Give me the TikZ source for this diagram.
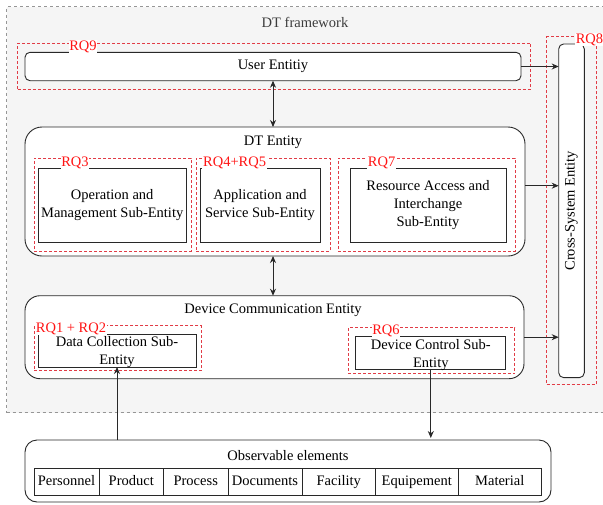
\documentclass[tikz,border=0pt]{standalone}
\usepackage{fontspec}
\setmainfont{Liberation Serif}
\usepackage{xcolor}
\definecolor{framegray}{RGB}{150,150,150}
\definecolor{framefill}{RGB}{245,245,245}
\definecolor{titlegray}{RGB}{60,60,60}
\definecolor{rqred}{RGB}{225,60,70}
\definecolor{rqtext}{RGB}{255,20,20}
\definecolor{linedark}{RGB}{40,40,40}
\usetikzlibrary{arrows.meta,positioning,calc}

\begin{document}
\begin{tikzpicture}[x=1pt,y=-1pt,
      every node/.style={font=\fontsize{14.5}{18}\selectfont,inner sep=0pt,outer sep=0pt},
      frame/.style={draw=framegray,fill=framefill,line width=0.8pt,dash pattern=on 3pt off 3pt},
      ent/.style={draw=linedark,fill=white,line width=0.9pt,rounded corners=#1},
      ent/.default=5pt,
      sub/.style={draw=linedark,fill=white,line width=0.9pt,align=center},
      rq/.style={draw=rqred,line width=1pt,dash pattern=on 3pt off 2pt},
      rqlab/.style={fill=white,text=rqtext,inner sep=0.8pt},
      cell/.style={draw=linedark,line width=0.9pt,minimum height=27pt,text height=10pt,text depth=3pt},
      link/.style={draw=linedark,line width=0.9pt,-{Stealth[length=7pt,width=6pt]}},
      dlink/.style={link,{Stealth[length=7pt,width=6pt]}-{Stealth[length=7pt,width=6pt]}}]
      \useasboundingbox (0,0) rectangle (603,504);
      \node[frame,minimum width=606pt,minimum height=406pt] (fw) at (309.5,209.6) {};
      \node[text=titlegray] (fwt) at (305,22.5) {DT framework};

      \node[rq,minimum width=513pt,minimum height=46pt] (rq9) at (274,66) {};
      \node[ent,minimum width=496pt,minimum height=28.4pt] (user) at (273,66.5) {User Entitiy};
      \node[rqlab] (rq9l) at (83,46.5) {RQ9};

      \node[ent=17pt,minimum width=500pt,minimum height=129pt] (dte) at (275,191.5) {};
      \node (dtet) at (273,142.7) {DT Entity};
      \node[rq,minimum width=157pt,minimum height=93pt] (rq3) at (112.5,204.5) {};
      \node[rq,minimum width=134pt,minimum height=93pt] (rq45) at (263,204.5) {};
      \node[rq,minimum width=177pt,minimum height=93pt] (rq7) at (426.5,204.5) {};
      \node[sub,minimum width=148.5pt,minimum height=74pt] (opm) at (112.2,205) {Operation and\\Management Sub-Entity};
      \node[sub,minimum width=120pt,minimum height=74pt] (app) at (260,205) {Application and\\Service Sub-Entity};
      \node[sub,minimum width=156pt,minimum height=74pt] (res) at (428,205) {Resource Access and\\Interchange\\Sub-Entity};
      \node[rqlab] (rq3l) at (75,162.5) {RQ3};
      \node[rqlab] (rq45l) at (234.6,162.5) {RQ4+RQ5};
      \node[rqlab] (rq7l) at (381.6,162.5) {RQ7};

      \node[ent=15pt,minimum width=499pt,minimum height=83pt] (dce) at (274.5,337.2) {};
      \node (dcet) at (273,310.7) {Device Communication Entity};
      \node[rq,minimum width=167pt,minimum height=45.3pt] (rq12) at (117.5,348.3) {};
      \node[rq,minimum width=166.6pt,minimum height=46.3pt] (rq6) at (431.3,350.8) {};
      \node[sub,minimum width=158pt,minimum height=33pt] (dcol) at (117,350.5) {};
      \node[align=center] (dcolt) at (117,352) {Data Collection Sub-\\Entity};
      \node[sub,minimum width=150pt,minimum height=32.3pt] (dctl) at (430.8,352.8) {};
      \node[align=center] (dctlt) at (430.8,354.7) {Device Control Sub-\\Entity};
      \node[rqlab] (rq12l) at (71,328.5) {RQ1 + RQ2};
      \node[rqlab] (rq6l) at (386,330.7) {RQ6};

      \node[rq,minimum width=49.8pt,minimum height=347.5pt] (rq8) at (571.6,210.7) {};
      \node[ent,minimum width=25.6pt,minimum height=333.7pt] (cse) at (571.5,210.8) {};
      \node[rotate=90] (cset) at (cse.center) {Cross-System Entity};
      \node[rqlab] (rq8l) at (589.5,39.5) {RQ8};

      \node[ent=12pt,minimum width=526pt,minimum height=62pt] (obs) at (288,471) {};
      \node (obst) at (288,456) {Observable elements};
      \node[cell,minimum width=65pt] (c1) at (66.5,481.5) {Personnel};
      \node[cell,minimum width=64.5pt] (c2) at (131.25,481.5) {Product};
      \node[cell,minimum width=64.5pt] (c3) at (195.75,481.5) {Process};
      \node[cell,minimum width=74pt] (c4) at (265,481.5) {Documents};
      \node[cell,minimum width=73.5pt] (c5) at (338.75,481.5) {Facility};
      \node[cell,minimum width=82.5pt] (c6) at (416.75,481.5) {Equipement};
      \node[cell,minimum width=83.5pt] (c7) at (499.75,481.5) {Material};

      \draw[dlink] (user.south) -- (user.south |- dte.north);
      \draw[dlink] (dte.south -| user.south) -- (dce.north -| user.south);
      \draw[link] (user.east) -- (user.east -| cse.west);
      \draw[link] ([yshift=5.8pt]dte.east) -- ([yshift=5.8pt]dte.east -| cse.west);
      \draw[link] (dce.east) -- (dce.east -| cse.west);
      \draw[link] (obs.north -| dcol.south) -- (dcol.south);
      \draw[link] (dctl.south) -- ([yshift=2pt]dctl.south |- obs.north);
    \end{tikzpicture}
\end{document}
